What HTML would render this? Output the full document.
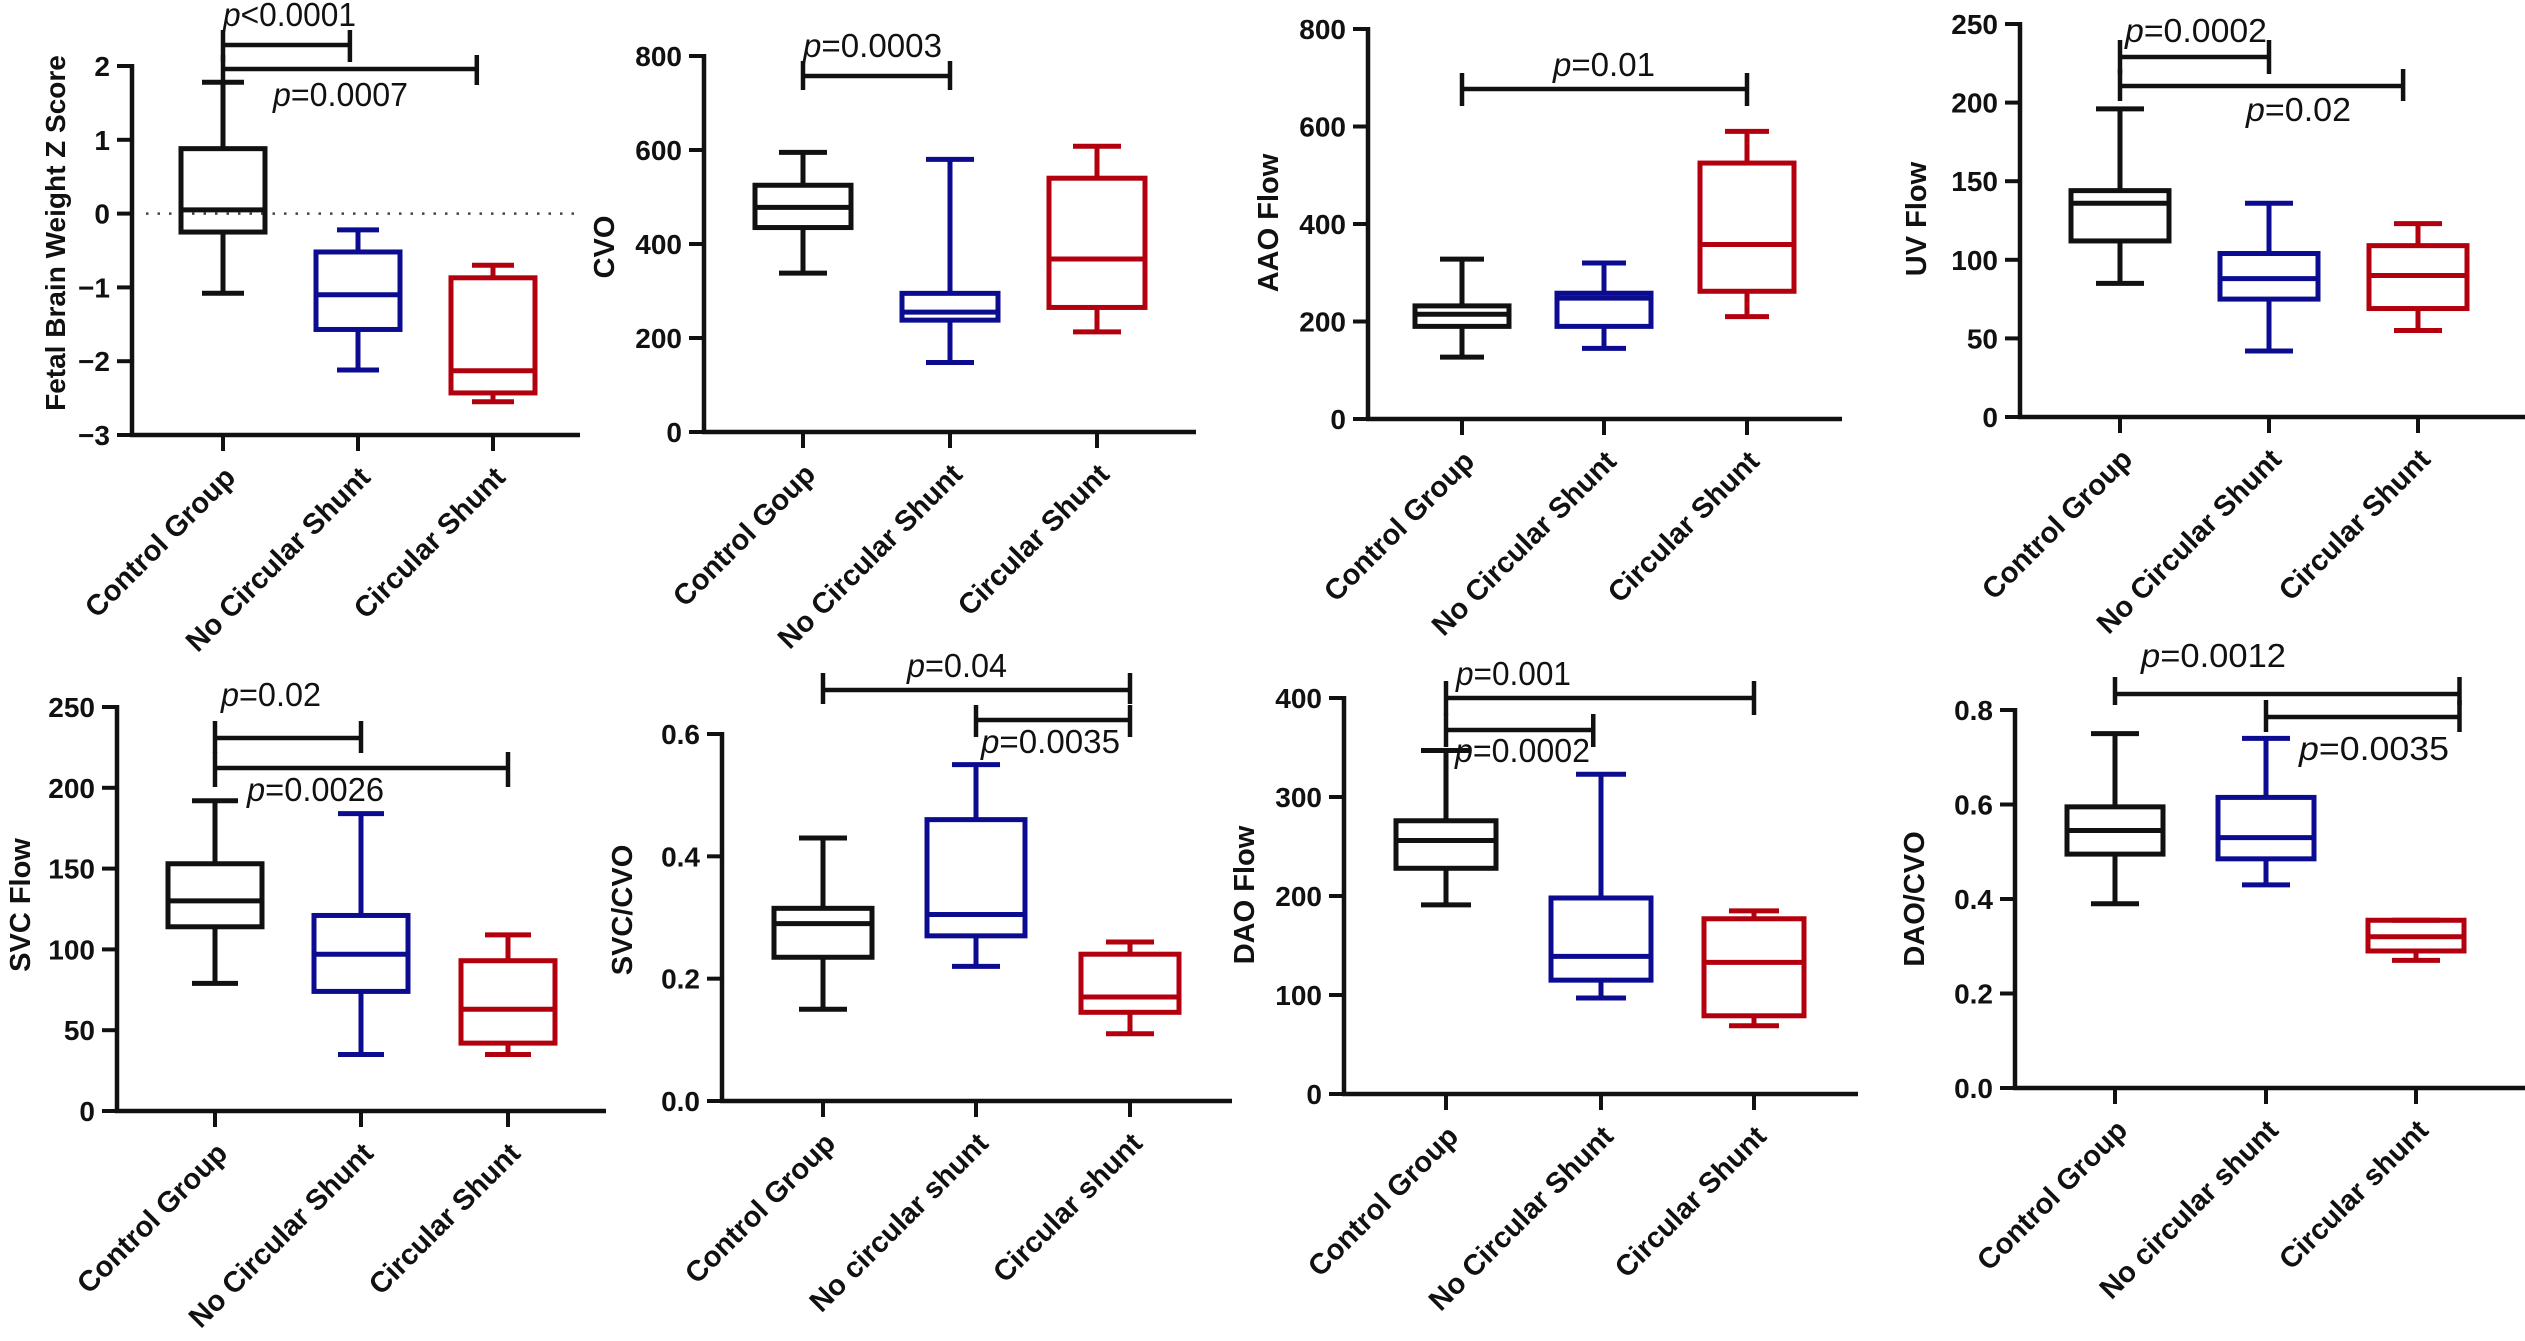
<!DOCTYPE html>
<html><head><meta charset="utf-8"><style>
html,body{margin:0;padding:0;background:#fff;}
svg{display:block;font-family:"Liberation Sans",Arial,sans-serif;}
</style></head><body>
<svg id="fig" width="2525" height="1341" viewBox="0 0 2525 1341" xmlns="http://www.w3.org/2000/svg"></svg>
<script>
// ---- data (whisker low, Q1, median, Q3, whisker high) per group ----
const groupsA = ["Control Group","No Circular Shunt","Circular Shunt"];
const groupsB = ["Control Goup","No Circular Shunt","Circular Shunt"];
const groupsC = ["Control Group","No circular shunt","Circular shunt"];

const fbwLow=[-1.08,-2.12,-2.55], fbwQ1=[-0.25,-1.57,-2.43], fbwMed=[0.05,-1.1,-2.13], fbwQ3=[0.88,-0.52,-0.87], fbwHigh=[1.78,-0.22,-0.7];
const cvoLow=[338,148,213], cvoQ1=[435,238,265], cvoMed=[478,255,368], cvoQ3=[525,295,540], cvoHigh=[595,580,608];
const aaoLow=[127,145,210], aaoQ1=[190,190,262], aaoMed=[215,248,358], aaoQ3=[232,258,525], aaoHigh=[328,320,590];
const uvLow=[85,42,55], uvQ1=[112,75,69], uvMed=[136,88,90], uvQ3=[144,104,109], uvHigh=[196,136,123];
const svcLow=[79,35,35], svcQ1=[114,74,42], svcMed=[130,97,63], svcQ3=[153,121,93], svcHigh=[192,184,109];
const svcCvoLow=[0.15,0.22,0.11], svcCvoQ1=[0.235,0.27,0.145], svcCvoMed=[0.29,0.305,0.17], svcCvoQ3=[0.315,0.46,0.24], svcCvoHigh=[0.43,0.55,0.26];
const daoLow=[191,97,69], daoQ1=[228,115,79], daoMed=[256,139,133], daoQ3=[276,198,177], daoHigh=[347,323,185];
const daoCvoLow=[0.39,0.43,0.27], daoCvoQ1=[0.495,0.485,0.29], daoCvoMed=[0.545,0.53,0.32], daoCvoQ3=[0.595,0.615,0.355], daoCvoHigh=[0.75,0.74,0.355];

const ticksFbw=[-3,-2,-1,0,1,2];
const ticksCvo=[0,200,400,600,800];
const ticksAao=[0,200,400,600,800];
const ticksUv=[0,50,100,150,200,250];
const ticksSvc=[0,50,100,150,200,250];
const ticksSvcCvo=[0,0.2,0.4,0.6];
const ticksDao=[0,100,200,300,400];
const ticksDaoCvo=[0,0.2,0.4,0.6,0.8];
const tickLabelsFbw=["\u22123","\u22122","\u22121","0","1","2"];
const tickLabelsSvcCvo=["0.0","0.2","0.4","0.6"];
const tickLabelsDaoCvo=["0.0","0.2","0.4","0.6","0.8"];

const colors=["#111111","#0c0c90","#b3000e"];
const NS="http://www.w3.org/2000/svg";
const svg=document.getElementById('fig');

function mk(tag,attrs,parent){const e=document.createElementNS(NS,tag);for(const k in attrs)e.setAttribute(k,attrs[k]);(parent||svg).appendChild(e);return e;}

function panel(cfg){
  const g=mk('g',{});
  
  
  const yS=v=>cfg.y0-(v-cfg.vmin)*(cfg.y0-cfg.yTop)/(cfg.vmax-cfg.vmin);
  const xS=i=>{const a=Math.floor(Math.min(i,1.999)),f=i-a;return cfg.cats[a]+(cfg.cats[a+1]-cfg.cats[a])*f;};
  // axes
  const ya=mk('line',{x1:cfg.ax,y1:yS(cfg.vmax)-2,x2:cfg.ax,y2:cfg.y0+2,stroke:'#111','stroke-width':4.5},g);
  
  
  const xa=mk('line',{x1:cfg.ax-2,y1:cfg.y0,x2:cfg.xEnd,y2:cfg.y0,stroke:'#111','stroke-width':4.5},g);
  
  
  cfg.ticks.forEach((t,i)=>{
    const y=yS(t);
    mk('line',{x1:cfg.ax-15,y1:y,x2:cfg.ax,y2:y,stroke:'#111','stroke-width':4},g);
    const tl=mk('text',{x:cfg.ax-22,y:y+10,'text-anchor':'end','font-size':28,'font-weight':'bold',fill:'#111'},g);
    tl.textContent=cfg.tickLabels?cfg.tickLabels[i]:String(t);
    
    
  });
  if(cfg.zeroLine){
    const zl=mk('line',{x1:cfg.ax+14,y1:yS(0),x2:cfg.xEnd-6,y2:yS(0),stroke:'#444','stroke-width':2.5,'stroke-dasharray':'2.5 9'},g);
    
    
  }
  // titles
  const tt=mk('text',{x:0,y:0,'text-anchor':'middle','font-size':cfg.titleSize||29,'font-weight':'bold',fill:'#111',transform:`translate(${cfg.title[1]+10},${cfg.title[2]}) rotate(-90)`},g);
  tt.textContent=cfg.title[0];
  
  
  // categories
  cfg.groups.forEach((name,i)=>{
    const x=cfg.cats[i];
    mk('line',{x1:x,y1:cfg.y0,x2:x,y2:cfg.y0+16,stroke:'#111','stroke-width':4},g);
    const cl=mk('text',{x:0,y:0,'text-anchor':'end','font-size':29,'font-weight':'bold',fill:'#111',transform:`translate(${x+14},${cfg.y0+44}) rotate(-45)`},g);
    cl.textContent=name;
    
    
  });
  // boxes
  for(let i=0;i<3;i++){
    const x=cfg.cats[i], c=colors[i], hw=cfg.hw, cw=cfg.cw;
    const bg=mk('g',{stroke:c,'stroke-width':5,fill:'none'},g);
    
    
    const lo=yS(cfg.lo[i]),q1=yS(cfg.q1[i]),md=yS(cfg.med[i]),q3=yS(cfg.q3[i]),hi=yS(cfg.hi[i]);
    mk('line',{x1:x,y1:hi,x2:x,y2:q3},bg);
    mk('line',{x1:x,y1:q1,x2:x,y2:lo},bg);
    mk('line',{x1:x-cw,y1:hi,x2:x+cw,y2:hi},bg);
    mk('line',{x1:x-cw,y1:lo,x2:x+cw,y2:lo},bg);
    mk('rect',{x:x-hw,y:q3,width:2*hw,height:Math.max(q1-q3,1)},bg);
    mk('line',{x1:x-hw,y1:md,x2:x+hw,y2:md},bg);
  }
  // significance brackets
  cfg.brackets.forEach(b=>{
    const bg=mk('g',{stroke:'#111','stroke-width':4.5},g);
    
    
    const x1=xS(b[0]),x2=xS(b[1]);
    mk('line',{x1:x1,y1:b[2],x2:x2,y2:b[2]},bg);
    mk('line',{x1:x1,y1:b[2]-b[3],x2:x1,y2:b[2]+b[4]},bg);
    mk('line',{x1:x2,y1:b[2]-b[3],x2:x2,y2:b[2]+b[4]},bg);
  });
  cfg.pLabels.forEach(p=>{
    const t=mk('text',{x:p[1],y:p[2],'font-size':33,fill:'#111',textLength:p[3],lengthAdjust:'spacingAndGlyphs'},g);
    const it=mk('tspan',{'font-style':'italic'},t); it.textContent='p';
    const rest=mk('tspan',{},t); rest.textContent=p[0];
    
    
  });
}

panel({name:'fetal-brain-weight',groups:groupsA,ax:132,xEnd:580,cats:[223,358,493],y0:435,yTop:66,vmin:-3,vmax:2,
  ticks:ticksFbw,tickLabels:tickLabelsFbw,zeroLine:true,hw:42,cw:21,title:['Fetal Brain Weight Z Score',55,233],titleSize:28,
  lo:fbwLow,q1:fbwQ1,med:fbwMed,q3:fbwQ3,hi:fbwHigh,
  brackets:[[0,0.94,45,15,17],[0,1.88,69,14,16]],
  pLabels:[['<0.0001',223,26,133],['=0.0007',273,106,135]]});
panel({name:'cvo',groups:groupsB,ax:704,xEnd:1196,cats:[803,950,1097],y0:432,yTop:56,vmin:0,vmax:800,
  ticks:ticksCvo,hw:48,cw:24,title:['CVO',604,247],
  lo:cvoLow,q1:cvoQ1,med:cvoMed,q3:cvoQ3,hi:cvoHigh,
  brackets:[[0,1,76,15,14]],pLabels:[['=0.0003',803,57,139]]});
panel({name:'aao-flow',groups:groupsA,ax:1368,xEnd:1842,cats:[1462,1604,1747],y0:419,yTop:29,vmin:0,vmax:800,
  ticks:ticksAao,hw:47,cw:22,title:['AAO Flow',1268,223],
  lo:aaoLow,q1:aaoQ1,med:aaoMed,q3:aaoQ3,hi:aaoHigh,
  brackets:[[0,2,89,16,17]],pLabels:[['=0.01',1553,76,102]]});
panel({name:'uv-flow',groups:groupsA,ax:2020,xEnd:2525,cats:[2120,2269,2418],y0:417,yTop:24,vmin:0,vmax:250,
  ticks:ticksUv,hw:49,cw:24,title:['UV Flow',1916,219],
  lo:uvLow,q1:uvQ1,med:uvMed,q3:uvQ3,hi:uvHigh,
  brackets:[[0,1,57,17,17],[0,1.9,86,17,15]],pLabels:[['=0.0002',2125,42,142],['=0.02',2246,121,105]]});
panel({name:'svc-flow',groups:groupsA,ax:117,xEnd:606,cats:[215,361,508],y0:1111,yTop:707,vmin:0,vmax:250,
  ticks:ticksSvc,hw:47,cw:23,title:['SVC Flow',20,905],
  lo:svcLow,q1:svcQ1,med:svcMed,q3:svcQ3,hi:svcHigh,
  brackets:[[0,1,738,17,15],[0,2,768,16,19]],pLabels:[['=0.02',221,706,100],['=0.0026',247,801,137]]});
panel({name:'svc-cvo',groups:groupsC,ax:722,xEnd:1232,cats:[823,976,1130],y0:1101,yTop:734,vmin:0,vmax:0.6,
  ticks:ticksSvcCvo,tickLabels:tickLabelsSvcCvo,hw:49,cw:24,title:['SVC/CVO',622,910],
  lo:svcCvoLow,q1:svcCvoQ1,med:svcCvoMed,q3:svcCvoQ3,hi:svcCvoHigh,
  brackets:[[0,2,690,17,14],[1,2,720,15,17]],pLabels:[['=0.04',907,677,100],['=0.0035',981,753,139]]});
panel({name:'dao-flow',groups:groupsA,ax:1344,xEnd:1858,cats:[1446,1601,1754],y0:1094,yTop:698,vmin:0,vmax:400,
  ticks:ticksDao,hw:50,cw:25,title:['DAO Flow',1244,895],
  lo:daoLow,q1:daoQ1,med:daoMed,q3:daoQ3,hi:daoHigh,
  brackets:[[0,2,698,17,17],[0,0.95,730,16,17]],pLabels:[['=0.001',1456,685,115],['=0.0002',1455,762,135]]});
panel({name:'dao-cvo',groups:groupsC,ax:2015,xEnd:2525,cats:[2115,2266,2416],y0:1088,yTop:710,vmin:0,vmax:0.8,
  ticks:ticksDaoCvo,tickLabels:tickLabelsDaoCvo,hw:48,cw:24,title:['DAO/CVO',1914,899],
  lo:daoCvoLow,q1:daoCvoQ1,med:daoCvoMed,q3:daoCvoQ3,hi:daoCvoHigh,
  brackets:[[0,2.29,694,17,11],[1,2.29,717,17,15]],pLabels:[['=0.0012',2141,667,145],['=0.0035',2299,760,150]]});
</script>
</body></html>
